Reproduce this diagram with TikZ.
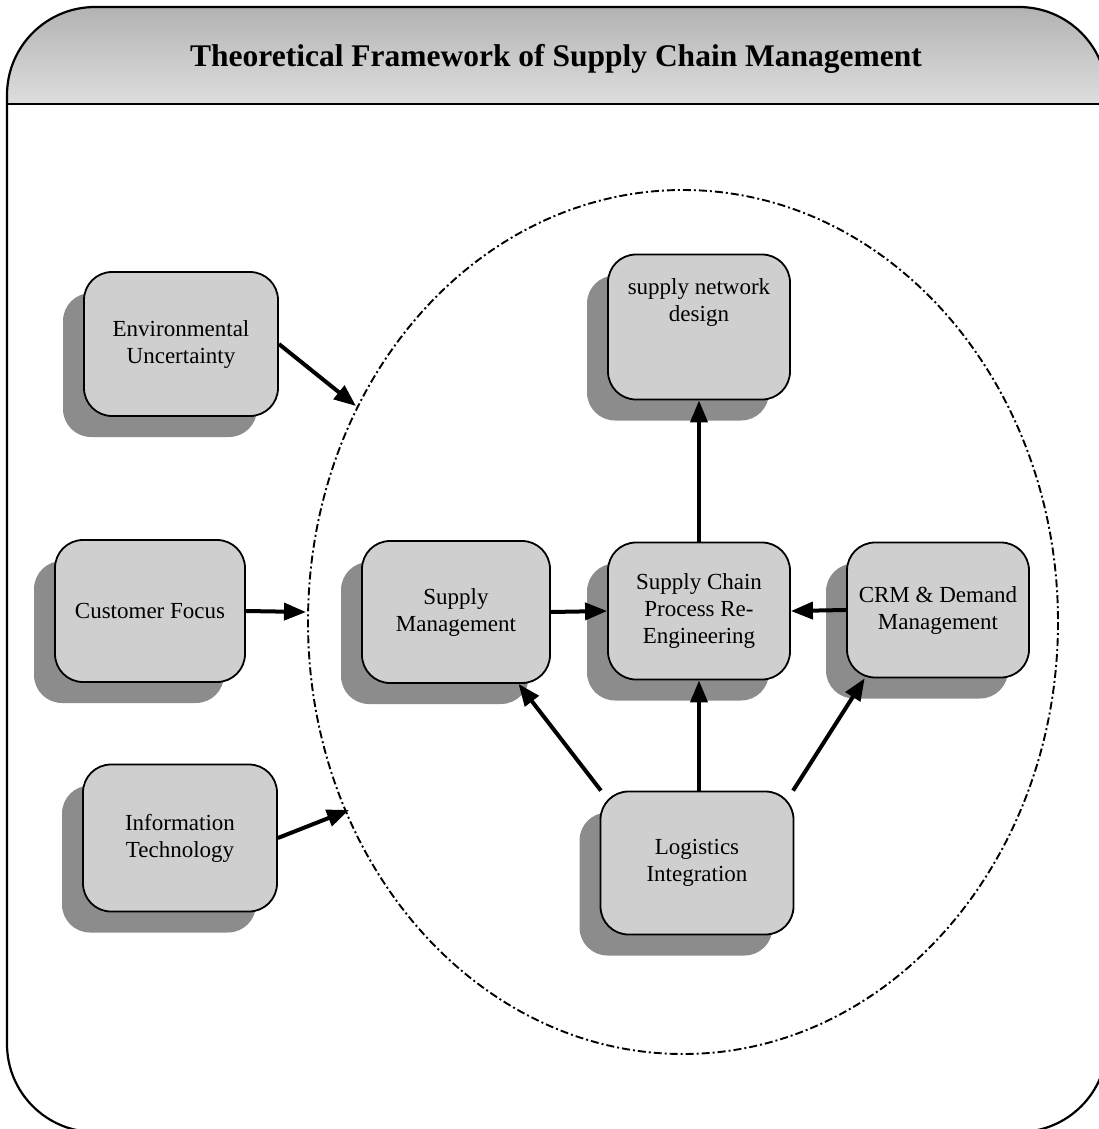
\documentclass[tikz,border=0pt]{standalone}
\usepackage{fontspec}
\setmainfont{Liberation Serif}
\usetikzlibrary{shadows,arrows.meta}
\begin{document}
\begin{tikzpicture}[x=1pt,y=-1pt,
  card/.style={draw=black, line width=1.8pt, rounded corners=28pt, fill=black!19,
    align=center, inner sep=0pt,
    font=\fontsize{23}{27}\selectfont,
    general shadow={fill=black!45, shadow xshift=-21pt, shadow yshift=-21pt}},
  link/.style={line width=4pt, -{Triangle[length=22pt,width=17pt]}},
  scope line/.style={line width=1.9pt, dash pattern=on 8pt off 3pt on 2pt off 3pt}]
\useasboundingbox (0,0) rectangle (1099,1129);
\fill[white] (0,0) rectangle (1099,1129);

% title band, clipped to the rounded outer frame
\begin{scope}
  \clip[rounded corners=88pt] (7,600) -- (7,7) -- (1107,7) -- (1107,1132) -- (7,1132) -- cycle;
  \fill[top color=black!30, bottom color=black!13] (7,7) rectangle (1107,104);
\end{scope}
\draw[line width=2.2pt, rounded corners=88pt]
  (7,600) -- (7,7) -- (1107,7) -- (1107,1132) -- (7,1132) -- cycle;
\draw[line width=2pt] (7,104) -- (1107,104);
\node[anchor=base, font=\fontsize{31.5}{36}\selectfont\bfseries] (title)
  at (556,67) {Theoretical Framework of Supply Chain Management};

% dashed scope of supply chain management
\draw[scope line] (683,622) ellipse [x radius=375, y radius=432];

% outside factors
\node[card, minimum width=194pt, minimum height=144pt] (env) at (181,344) {Environmental\\Uncertainty};
\node[card, minimum width=190pt, minimum height=142pt] (cf) at (150,611) {Customer Focus};
\node[card, minimum width=194pt, minimum height=147pt] (it) at (180,838) {Information\\Technology};

% inner components
\node[card, minimum width=182pt, minimum height=145pt] (snd) at (699,327) {supply network\\design\\[1.2em]};
\node[card, minimum width=188pt, minimum height=142pt] (sm) at (456,612) {Supply\\Management};
\node[card, minimum width=182pt, minimum height=137pt] (scpr) at (699,611) {Supply Chain\\Process Re-\\Engineering};
\node[card, minimum width=182pt, minimum height=135pt] (crm) at (938,610) {CRM \& Demand\\Management};
\node[card, minimum width=193pt, minimum height=143pt] (log) at (697,863) {Logistics\\Integration};

% entry points on the scope boundary
\coordinate (e1) at (356,406);
\coordinate (e2) at (306,612);
\coordinate (e3) at (349,810);

\draw[link] (env.east) -- (e1);
\draw[link] (cf.east) -- (e2);
\draw[link] (it.east) -- (e3);
\draw[link] (sm.east) -- (scpr.west);
\draw[link] (crm.west) -- (scpr.east);
\draw[link] (scpr.north) -- (snd.south);
\draw[link] (log.north -| scpr.south) -- (scpr.south);
\draw[link] (log.143) -- (sm.-49);
\draw[link] (log.37) -- (crm.-137);
\end{tikzpicture}
\end{document}
